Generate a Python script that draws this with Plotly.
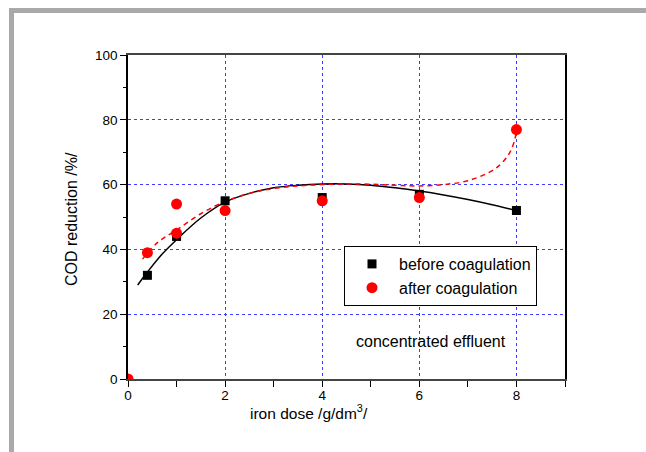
import plotly.graph_objects as go

# measured points
dose_before = [0.4, 1, 2, 4, 6, 8]
cod_before = [32, 44, 55, 56, 57, 52]
dose_after = [0, 0.4, 1, 1, 2, 4, 6, 8]
cod_after = [0, 39, 54, 45, 52, 55, 56, 77]

# fitted curves
fit_before_x = [0.2, 0.4, 0.7, 1, 1.5, 2, 2.5, 3, 3.5, 4, 4.5, 5, 5.5, 6, 6.5, 7, 7.5, 8]
fit_before_y = [29, 33, 38.5, 43, 49.7, 54.6, 57.3, 59, 59.8, 60.2, 60.2, 59.8, 59, 58, 56.8, 55.4, 53.8, 52]
fit_after_x = [0.3, 0.6, 1, 1.5, 2, 2.5, 3, 3.5, 4, 4.5, 5, 5.5, 6, 6.5, 7, 7.5, 7.75, 7.9, 8]
fit_after_y = [37, 42, 46, 51, 54.8, 57.3, 58.8, 59.6, 60, 60.2, 60.1, 59.8, 59.6, 60, 61.2, 64.3, 67.5, 71, 76]

x_ticks = [0, 2, 4, 6, 8]
y_ticks = [0, 20, 40, 60, 80, 100]

FONT = "Liberation Sans, Arial, sans-serif"

fig = go.Figure()
fig.add_trace(go.Scatter(x=fit_before_x, y=fit_before_y, mode="lines",
                         line=dict(color="black", width=1.5, shape="spline"),
                         showlegend=False, hoverinfo="skip"))
fig.add_trace(go.Scatter(x=fit_after_x, y=fit_after_y, mode="lines",
                         line=dict(color="red", width=1.5, dash="5px,4px", shape="spline"),
                         showlegend=False, hoverinfo="skip"))
fig.add_trace(go.Scatter(x=dose_before, y=cod_before, mode="markers", name="before coagulation",
                         marker=dict(symbol="square", size=9, color="black")))
fig.add_trace(go.Scatter(x=dose_after, y=cod_after, mode="markers", name="after coagulation",
                         marker=dict(symbol="circle", size=11, color="red")))

L, R, T, B = 128, 565, 55, 379
W, H = 646, 452
pw, ph = R - L, B - T

def px(x):
    return (x - L) / pw

def py(y):
    return (B - y) / ph

frame_color = "#a9a9ab"
fig.add_shape(type="rect", xref="paper", yref="paper", x0=px(9), x1=px(646), y0=py(8), y1=py(13),
              fillcolor=frame_color, line_width=0, layer="below")
fig.add_shape(type="rect", xref="paper", yref="paper", x0=px(9), x1=px(14), y0=py(8), y1=py(452),
              fillcolor=frame_color, line_width=0, layer="below")

fig.add_annotation(text="concentrated effluent", x=px(431), y=py(341), xref="paper", yref="paper",
                   xanchor="center", yanchor="middle", showarrow=False,
                   font=dict(family=FONT, size=16, color="black"))
fig.add_annotation(text="iron dose /g/dm<sup>3</sup>/", x=px(309), y=py(412), xref="paper", yref="paper",
                   xanchor="center", yanchor="middle", showarrow=False,
                   font=dict(family=FONT, size=15.5, color="black"))
fig.add_annotation(text="COD reduction /%/", x=px(71), y=py(219), xref="paper", yref="paper",
                   xanchor="center", yanchor="middle", showarrow=False, textangle=-90,
                   font=dict(family=FONT, size=16, color="black"))

grid_color = "#3c3cff"
fig.update_xaxes(range=[0, 9], tickvals=x_ticks, ticktext=[str(v) for v in x_ticks],
                 ticks="outside", ticklen=6, tickcolor="black", tickwidth=1.3, ticklabelstandoff=-3,
                 minor=dict(dtick=1, tick0=0, ticks="outside", ticklen=6, tickcolor="black", showgrid=False),
                 showgrid=True, gridcolor=grid_color, griddash="dot", gridwidth=1,
                 showline=True, linecolor="#444", linewidth=2, mirror=True, zeroline=False,
                 tickfont=dict(family=FONT, size=13.5, color="black"))
fig.update_yaxes(range=[0, 100], tickvals=y_ticks, ticktext=[str(v) for v in y_ticks],
                 ticks="outside", ticklen=6, tickcolor="black", tickwidth=1.3,
                 minor=dict(dtick=10, tick0=0, ticks="outside", ticklen=3, tickcolor="black", showgrid=False),
                 showgrid=True, gridcolor=grid_color, griddash="dot", gridwidth=1,
                 showline=True, linecolor="black", linewidth=1.5, mirror=True, zeroline=False,
                 tickfont=dict(family=FONT, size=13.5, color="black"))

fig.update_layout(
    width=W, height=H,
    margin=dict(l=L, r=W - R, t=T, b=H - B, pad=0),
    plot_bgcolor="white", paper_bgcolor="white",
    font=dict(family=FONT, color="black"),
    legend=dict(x=px(344), y=py(246), xanchor="left", yanchor="top",
                bgcolor="white", bordercolor="black", borderwidth=1,
                font=dict(family=FONT, size=16, color="black"),
                itemwidth=44, tracegroupgap=0),
)

fig.write_html("out.html")
